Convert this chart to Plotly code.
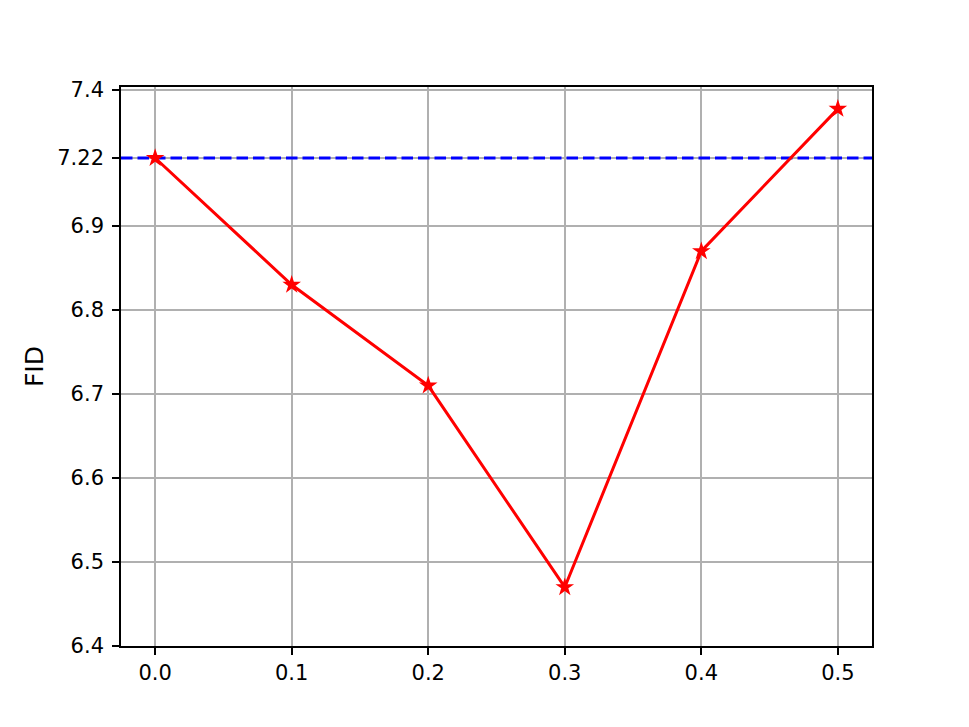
import numpy as np
import plotly.graph_objects as go

# Data
x_vals = [0.0, 0.1, 0.2, 0.3, 0.4, 0.5]
fid_vals = [7.22, 6.83, 6.71, 6.47, 6.87, 7.35]
baseline = 7.22
y_tick_labels = ["6.4", "6.5", "6.6", "6.7", "6.8", "6.9", "7.22", "7.4"]
y_tick_values = [6.4, 6.5, 6.6, 6.7, 6.8, 6.9, 7.22, 7.4]
x_tick_values = [0.0, 0.1, 0.2, 0.3, 0.4, 0.5]

# Piecewise (broken) y scale as in the reference: uniform up to 6.9,
# then compressed segments 6.9-7.22 and 7.22-7.4.
knots_val = [6.4, 6.9, 7.22, 7.4]
knots_pos = [6.4, 6.9, 6.4 + 488 / 840, 6.4 + 556 / 840]


def ymap(v):
    return np.interp(v, knots_val, knots_pos)


fig = go.Figure()
fig.add_trace(go.Scatter(
    x=[-0.025, 0.525], y=ymap([baseline, baseline]), mode="lines",
    line=dict(color="blue", width=3.2, dash="11.5px,5px"),
    showlegend=False, hoverinfo="skip"))
fig.add_trace(go.Scatter(
    x=x_vals, y=ymap(fid_vals), mode="lines+markers",
    line=dict(color="red", width=3),
    marker=dict(symbol="star", size=14, color="red"),
    showlegend=False))

axis_common = dict(
    showline=True, linecolor="black", linewidth=1.6, mirror=True,
    showgrid=True, gridcolor="#b0b0b0", gridwidth=1.6,
    zeroline=False, ticks="outside", ticklen=7, tickwidth=1.6, tickcolor="black",
    tickfont=dict(family="DejaVu Sans", size=21, color="black"),
)

fig.update_layout(
    width=961, height=719,
    margin=dict(l=113, r=97, t=79, b=81),
    paper_bgcolor="white", plot_bgcolor="white",
    xaxis=dict(range=[-0.025, 0.525], tickvals=x_tick_values,
               ticktext=[f"{v:.1f}" for v in x_tick_values], **axis_common),
    yaxis=dict(range=[6.4, 6.4 + 559 / 840],
               tickvals=list(ymap(y_tick_values)), ticktext=y_tick_labels,
               ticklabelstandoff=4,
               title=dict(text="FID", font=dict(family="DejaVu Sans", size=25, color="black"), standoff=6),
               **axis_common),
)

fig.write_html("out.html")
